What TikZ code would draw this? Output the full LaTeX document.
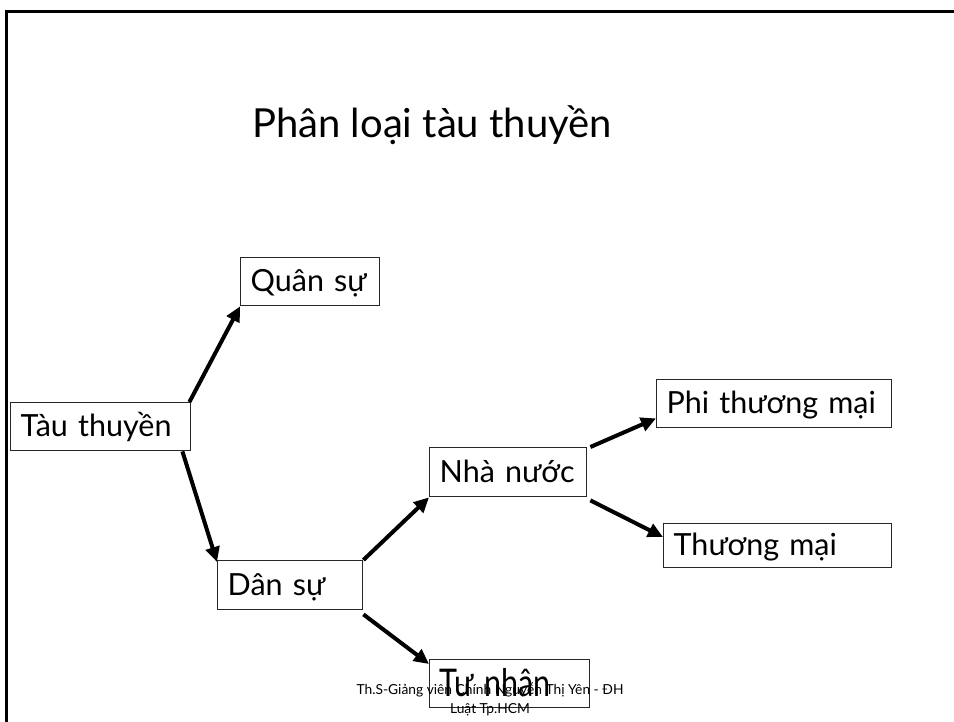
\documentclass[tikz,border=0pt]{standalone}
\usepackage{fontspec}
\usepackage{graphicx}
\setmainfont{Lato}
\usetikzlibrary{arrows.meta,calc}

\begin{document}
\begin{tikzpicture}[x=1pt,y=-1pt,
  box/.style={draw=black!85, line width=1.4pt, rectangle, anchor=north west,
    inner xsep=10pt, inner ysep=0pt, align=left,
    text height=24pt, text depth=4pt,
    font=\fontsize{30.5}{32}\selectfont},
  arr/.style={line width=4pt, -{Triangle[length=15pt,width=14pt]}},
  foot/.style={font=\fontsize{13.8}{19}\selectfont, align=center}
]
\useasboundingbox (0,0) rectangle (954,722);

% slide frame
\draw[line width=3pt] (954,12) -- (6,12) -- (6,722);

% title
\node[anchor=base west, inner sep=0pt, font=\fontsize{40}{44}\selectfont] (title) at (252,138) {Phân loại tàu thuyền};

% boxes
\node[box, minimum width=180pt, minimum height=48pt, text width=160pt] (tau) at (10,402) {Tàu thuyền};
\node[box, minimum width=139pt, minimum height=48pt, text width=119pt] (quan) at (240,257) {Quân sự};
\node[box, minimum width=145pt, minimum height=49pt, text width=125pt] (dan) at (217,560) {Dân sự};
\node[box, minimum width=157pt, minimum height=49pt, text width=137pt] (nha) at (429,447) {Nhà nước};
\node[box, minimum width=235pt, minimum height=48pt, text width=215pt] (phi) at (656,379) {Phi thương mại};
\node[box, minimum width=228pt, minimum height=44pt, text width=208pt] (thuong) at (663,523) {Thương mại};
\node[box, minimum width=160pt, minimum height=48pt, text width=140pt, text height=30pt] (tu) at (429,659) {\scalebox{1}[1.25]{Tư nhân}};

% connectors
\draw[arr] ([xshift=-2pt]tau.north east) -- (quan.south west);
\draw[arr] ([xshift=-9pt]tau.south east) -- ([yshift=-2pt]dan.north west);
\draw[arr] (dan.north east) -- (nha.south west);
\draw[arr] ([yshift=-4pt]dan.south east) -- ([yshift=-5pt]tu.north west);
\draw[arr] ([xshift=3pt]nha.north east) -- ([yshift=10pt]phi.south west);
\draw[arr] ([xshift=3pt,yshift=-3pt]nha.south east) -- ([yshift=-14pt]thuong.north west);

% footer
\node[foot] (footer) at (490,699) {Th.S-Giảng viên Chính Nguyễn Thị Yên - ĐH\\Luật Tp.HCM};
\end{tikzpicture}
\end{document}
